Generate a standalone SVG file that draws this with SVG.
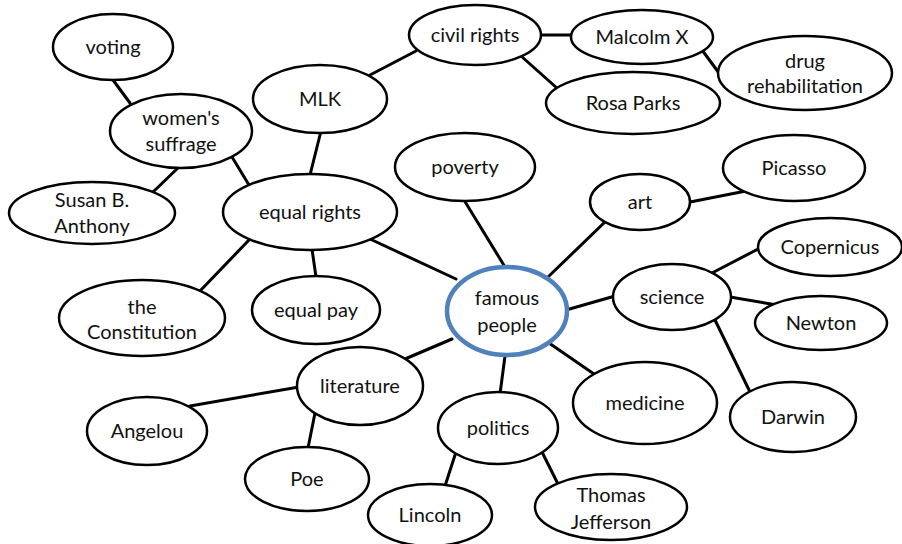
<svg xmlns="http://www.w3.org/2000/svg" width="902" height="544" viewBox="0 0 902 544">
<style>
.c line{stroke:#000;stroke-width:3;stroke-linecap:round}
.n ellipse{fill:#fff;stroke:#000;stroke-width:2.5}
#n-famous ellipse{stroke:#4f81bd;stroke-width:4.5}
text{font-family:Lato,"Liberation Sans",sans-serif;font-size:20px;fill:#111;text-anchor:middle}
</style>
<rect width="902" height="544" fill="#fff"/>
<g id="connectors" class="c">
<line x1="113" y1="80" x2="130" y2="103"/>
<line x1="180" y1="166" x2="153" y2="192"/>
<line x1="232" y1="157" x2="249" y2="185"/>
<line x1="321" y1="131" x2="310" y2="175"/>
<line x1="370" y1="75" x2="416" y2="51"/>
<line x1="538" y1="35" x2="574" y2="35"/>
<line x1="521" y1="56" x2="558" y2="89"/>
<line x1="702" y1="50" x2="719" y2="73"/>
<line x1="249" y1="240" x2="200" y2="291"/>
<line x1="312" y1="249" x2="316" y2="277"/>
<line x1="370" y1="239" x2="456" y2="279"/>
<line x1="464" y1="200" x2="505" y2="267"/>
<line x1="606" y1="221" x2="548" y2="277"/>
<line x1="690" y1="202" x2="746" y2="191"/>
<line x1="566" y1="310" x2="615" y2="296"/>
<line x1="712" y1="273" x2="760" y2="248"/>
<line x1="730" y1="297" x2="777" y2="305"/>
<line x1="715" y1="320" x2="751" y2="394"/>
<line x1="549" y1="343" x2="594" y2="374"/>
<line x1="505" y1="356" x2="500" y2="394"/>
<line x1="542" y1="452" x2="558" y2="484"/>
<line x1="456" y1="452" x2="445" y2="486"/>
<line x1="452" y1="339" x2="405" y2="359"/>
<line x1="299" y1="387" x2="190" y2="406"/>
<line x1="315" y1="413" x2="308" y2="448"/>
</g>
<g id="n-voting" class="n"><ellipse cx="113" cy="47" rx="60" ry="33"/><text x="113" y="54">voting</text></g>
<g id="n-suffrage" class="n"><ellipse cx="181" cy="131" rx="71" ry="37"/><text x="181" y="125">women's</text><text x="181" y="151">suffrage</text></g>
<g id="n-susan" class="n"><ellipse cx="92" cy="213" rx="83" ry="31"/><text x="92" y="207">Susan B.</text><text x="92" y="233">Anthony</text></g>
<g id="n-mlk" class="n"><ellipse cx="320" cy="99" rx="67" ry="34"/><text x="320" y="106">MLK</text></g>
<g id="n-equalrights" class="n"><ellipse cx="310" cy="212" rx="87" ry="38"/><text x="310" y="219">equal rights</text></g>
<g id="n-civil" class="n"><ellipse cx="475" cy="35" rx="66" ry="30"/><text x="475" y="42">civil rights</text></g>
<g id="n-malcolm" class="n"><ellipse cx="642" cy="37" rx="71" ry="27"/><text x="642" y="44">Malcolm X</text></g>
<g id="n-drug" class="n"><ellipse cx="805" cy="73" rx="87" ry="37"/><text x="805" y="68">drug</text><text x="805" y="93">rehabilitation</text></g>
<g id="n-rosa" class="n"><ellipse cx="633" cy="103" rx="87" ry="31"/><text x="633" y="110">Rosa Parks</text></g>
<g id="n-poverty" class="n"><ellipse cx="465" cy="167" rx="70" ry="34"/><text x="465" y="174">poverty</text></g>
<g id="n-art" class="n"><ellipse cx="640" cy="202" rx="50" ry="28"/><text x="640" y="209">art</text></g>
<g id="n-picasso" class="n"><ellipse cx="794" cy="168" rx="71" ry="33"/><text x="794" y="175">Picasso</text></g>
<g id="n-copernicus" class="n"><ellipse cx="830" cy="247" rx="72" ry="29"/><text x="830" y="254">Copernicus</text></g>
<g id="n-constitution" class="n"><ellipse cx="142" cy="318" rx="83" ry="38"/><text x="142" y="314">the</text><text x="142" y="339">Constitution</text></g>
<g id="n-equalpay" class="n"><ellipse cx="316" cy="310" rx="64" ry="34"/><text x="316" y="317">equal pay</text></g>
<g id="n-famous" class="n"><ellipse cx="507" cy="311" rx="60" ry="44"/><text x="507" y="305">famous</text><text x="507" y="332">people</text></g>
<g id="n-science" class="n"><ellipse cx="672" cy="297" rx="59" ry="33"/><text x="672" y="304">science</text></g>
<g id="n-newton" class="n"><ellipse cx="821" cy="323" rx="66" ry="27"/><text x="821" y="330">Newton</text></g>
<g id="n-literature" class="n"><ellipse cx="360" cy="386" rx="63" ry="39"/><text x="360" y="393">literature</text></g>
<g id="n-angelou" class="n"><ellipse cx="147" cy="431" rx="60" ry="34"/><text x="147" y="438">Angelou</text></g>
<g id="n-poe" class="n"><ellipse cx="307" cy="479" rx="62" ry="32"/><text x="307" y="486">Poe</text></g>
<g id="n-politics" class="n"><ellipse cx="498" cy="428" rx="60" ry="36"/><text x="498" y="435">politics</text></g>
<g id="n-medicine" class="n"><ellipse cx="645" cy="403" rx="72" ry="41"/><text x="645" y="410">medicine</text></g>
<g id="n-darwin" class="n"><ellipse cx="793" cy="417" rx="63" ry="35"/><text x="793" y="424">Darwin</text></g>
<g id="n-lincoln" class="n"><ellipse cx="430" cy="515" rx="62" ry="31"/><text x="430" y="522">Lincoln</text></g>
<g id="n-jefferson" class="n"><ellipse cx="611" cy="507" rx="76" ry="33"/><text x="611" y="502">Thomas</text><text x="611" y="529">Jefferson</text></g>
</svg>
